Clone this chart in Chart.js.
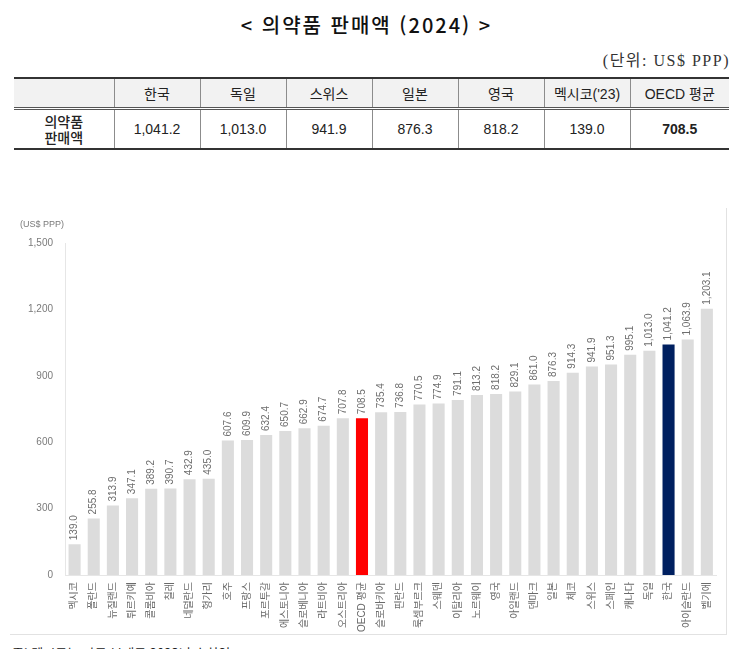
<!DOCTYPE html>
<html lang="ko">
<head>
<meta charset="utf-8">
<title>의약품 판매액 (2024)</title>
<script src="https://cdn.jsdelivr.net/npm/chart.js@4.4.1/dist/chart.umd.min.js"></script>
<style>
  body { margin: 0; background: #fff; width: 755px; height: 649px; position: relative; overflow: hidden;
         font-family: "Liberation Sans", "Noto Sans CJK KR", sans-serif; color: #222; }
  #title { position: absolute; left: 0; width: 733px; top: 10px; text-align: center;
           font-family: "Noto Sans CJK KR", sans-serif; font-size: 20px; font-weight: 500; letter-spacing: 2px; color: #111; }
  #unit { position: absolute; right: 25px; top: 47px; font-family: "Liberation Serif", "Noto Sans CJK KR", serif;
          font-size: 16px; letter-spacing: 1.5px; color: #333; }
  #tbl { position: absolute; left: 14px; top: 77px; width: 714px; border-collapse: collapse; table-layout: fixed; }
  #tbl th, #tbl td { text-align: center; border-left: 1px solid #8c8c8c; font-size: 14px; padding: 0; }
  #tbl th:first-child, #tbl td:first-child { border-left: none; }
  #tbl thead tr { background: #f2f2f2; border-top: 2px solid #333; border-bottom: 3px double #555; height: 30px; }
  #tbl th { font-weight: normal; }
  #tbl tbody tr { border-bottom: 2px solid #333; height: 41px; }
  #tbl .rowhead { line-height: 16px; font-family: "Noto Sans CJK KR", sans-serif; font-weight: 500; }
  #tbl .avg { font-weight: bold; }
  #frame { position: absolute; left: 10px; top: 208px; width: 716px; height: 426px;
           border-right: 1px solid #e2e2e2; border-bottom: 1px solid #e2e2e2; }
  #yunit { position: absolute; left: 20px; top: 219px; font-size: 9px; color: #7a7a7a; }
  #note { position: absolute; left: 12px; top: 643px; font-family: "Noto Sans CJK KR", sans-serif; font-size: 13px; color: #222; }
</style>
</head>
<body>
<div id="title">&lt; 의약품 판매액 (2024) &gt;</div>
<div id="unit">(단위: US$ PPP)</div>
<table id="tbl">
  <colgroup><col style="width:100px"></colgroup>
  <thead><tr id="headRow"><th></th></tr></thead>
  <tbody><tr id="valRow"><td class="rowhead">의약품<br>판매액</td></tr></tbody>
</table>
<div id="frame"><canvas id="barChart"></canvas></div>
<div id="yunit">(US$ PPP)</div>
<div id="note">주: 멕시코는 자료 부재로 2023년 수치임</div>

<script>
// summary table
var tableCountries = ["한국", "독일", "스위스", "일본", "영국", "멕시코('23)", "OECD 평균"];
var tableValues = ["1,041.2", "1,013.0", "941.9", "876.3", "818.2", "139.0", "708.5"];

// chart data (ascending)
var countries = ["멕시코", "폴란드", "뉴질랜드", "튀르키예", "콜롬비아", "칠레", "네덜란드", "헝가리",
    "호주", "프랑스", "포르투갈", "에스토니아", "슬로베니아", "라트비아", "오스트리아", "OECD 평균",
    "슬로바키아", "핀란드", "룩셈부르크", "스웨덴", "이탈리아", "노르웨이", "영국", "아일랜드",
    "덴마크", "일본", "체코", "스위스", "스페인", "캐나다", "독일", "한국", "아이슬란드", "벨기에"];
var sales = [139.0, 255.8, 313.9, 347.1, 389.2, 390.7, 432.9, 435.0,
    607.6, 609.9, 632.4, 650.7, 662.9, 674.7, 707.8, 708.5,
    735.4, 736.8, 770.5, 774.9, 791.1, 813.2, 818.2, 829.1,
    861.0, 876.3, 914.3, 941.9, 951.3, 995.1, 1013.0, 1041.2, 1063.9, 1203.1];
var yTicks = [0, 300, 600, 900, 1200, 1500];

document.addEventListener("DOMContentLoaded", function () {
    var headRow = document.getElementById("headRow");
    var valRow = document.getElementById("valRow");
    tableCountries.forEach(function (c, i) {
        var th = document.createElement("th");
        th.textContent = c;
        headRow.appendChild(th);
        var td = document.createElement("td");
        td.textContent = tableValues[i];
        if (c === "OECD 평균") td.className = "avg";
        valRow.appendChild(td);
    });
    var cols = document.querySelector("#tbl colgroup");
    tableCountries.forEach(function (c, i) {
        var col = document.createElement("col");
        col.style.width = (i === tableCountries.length - 1 ? 99 : 86) + "px";
        cols.appendChild(col);
    });

    var fmt = function (v) {
        return v.toLocaleString("en-US", { minimumFractionDigits: 1, maximumFractionDigits: 1 });
    };

    var colors = countries.map(function (c) {
        if (c === "OECD 평균") return "#ff0000";
        if (c === "한국") return "#002060";
        return "#dcdcdc";
    });

    // value labels drawn vertically above each bar
    var barLabels = {
        id: "barLabels",
        afterDatasetsDraw: function (chart) {
            var ctx = chart.ctx;
            var meta = chart.getDatasetMeta(0);
            ctx.save();
            ctx.font = '10px "Liberation Sans", Arial, sans-serif';
            ctx.fillStyle = "#6e6e6e";
            ctx.textAlign = "left";
            ctx.textBaseline = "middle";
            meta.data.forEach(function (bar, i) {
                ctx.save();
                ctx.translate(bar.x, bar.y - 4);
                ctx.rotate(-Math.PI / 2);
                ctx.fillText(fmt(sales[i]), 0, 0);
                ctx.restore();
            });
            ctx.restore();
        }
    };

    var ctx1 = document.getElementById("barChart").getContext("2d");
    new Chart(ctx1, {
        type: "bar",
        data: {
            labels: countries,
            datasets: [{
                data: sales,
                backgroundColor: colors,
                barPercentage: 0.63,
                categoryPercentage: 1.0
            }]
        },
        options: {
            responsive: true,
            maintainAspectRatio: false,
            animation: false,
            layout: { padding: { top: 35, right: 9, left: 0, bottom: 0 } },
            plugins: { legend: { display: false }, tooltip: { enabled: false } },
            scales: {
                x: {
                    grid: { display: false, drawTicks: false },
                    border: { color: "#e6e6e6" },
                    ticks: {
                        minRotation: 90, maxRotation: 90, autoSkip: false, padding: 7,
                        color: "#6a6a6a",
                        font: { size: 10, family: '"Liberation Sans", "Noto Sans CJK KR", sans-serif' }
                    },
                    afterFit: function (s) { s.height = 59; }
                },
                y: {
                    min: 0, max: 1500,
                    grid: { display: false, drawTicks: false },
                    border: { color: "#e6e6e6" },
                    afterBuildTicks: function (s) {
                        s.ticks = yTicks.map(function (v) { return { value: v }; });
                    },
                    ticks: {
                        padding: 12, color: "#7a7a7a",
                        font: { size: 10, family: '"Liberation Sans", Arial, sans-serif' },
                        callback: function (v) { return v.toLocaleString("en-US"); }
                    },
                    afterFit: function (s) { s.width = 55; }
                }
            }
        },
        plugins: [barLabels]
    });
});
</script>
</body>
</html>
